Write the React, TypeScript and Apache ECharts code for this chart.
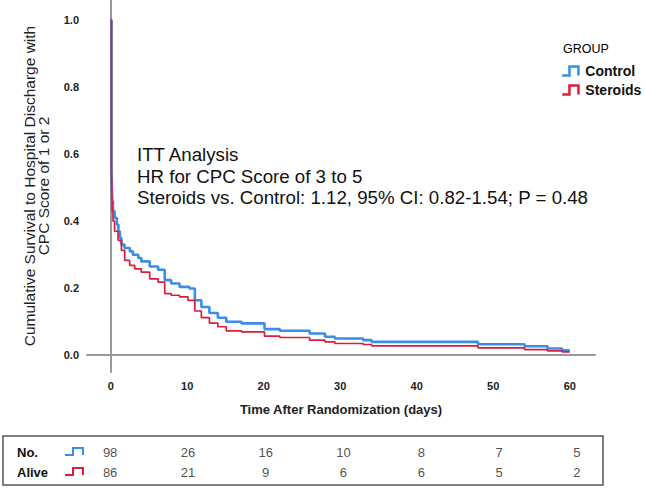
import React, { useEffect, useRef } from 'react';
import * as echarts from 'echarts';

const BLUE = '#3b8de6';
const RED = '#dc1c3c';
const FONT = '"Liberation Sans", Arial, sans-serif';

// Kaplan-Meier step points (time in days, cumulative survival)
const controlTimes = [0, 0.1, 0.15, 0.2, 0.3, 0.5, 0.8, 1.0, 1.2, 1.4, 1.8, 2.5, 2.9, 3.6, 4.0, 5.1, 6.2, 7.06, 7.9, 9.0, 10.3, 11.0, 11.85, 12.9, 14.0, 15.1, 17.1, 20.1, 22.1, 26.0, 28.0, 29.3, 33.0, 34.1, 48.0, 54.1, 57.1, 59.0, 60.0];
const controlSurv = [1.0, 0.56, 0.5, 0.46, 0.43, 0.41, 0.39, 0.37, 0.35, 0.33, 0.32, 0.31, 0.3, 0.29, 0.28, 0.265, 0.255, 0.224, 0.214, 0.204, 0.199, 0.164, 0.144, 0.126, 0.112, 0.1, 0.095, 0.078, 0.073, 0.065, 0.055, 0.05, 0.045, 0.04, 0.033, 0.027, 0.02, 0.015, 0.015];
const steroidTimes = [0, 0.1, 0.15, 0.2, 0.3, 0.5, 0.96, 1.4, 1.83, 2.48, 3.14, 4.0, 5.1, 6.2, 7.06, 7.9, 9.0, 10.1, 11.0, 11.85, 12.9, 14.0, 15.1, 17.1, 20.1, 22.1, 26.0, 28.0, 29.3, 33.0, 34.1, 48.0, 54.1, 57.1, 59.0, 60.0];
const steroidSurv = [1.0, 0.55, 0.48, 0.43, 0.4, 0.37, 0.343, 0.313, 0.283, 0.268, 0.258, 0.248, 0.228, 0.218, 0.184, 0.179, 0.174, 0.164, 0.132, 0.112, 0.096, 0.085, 0.073, 0.07, 0.057, 0.053, 0.045, 0.04, 0.035, 0.032, 0.028, 0.022, 0.017, 0.013, 0.01, 0.01];

const xTicks = [0, 10, 20, 30, 40, 50, 60];
const yTicks = [0, 0.2, 0.4, 0.6, 0.8, 1.0];

// Numbers at risk table
const riskTimes = [0, 10, 20, 30, 40, 50, 60];
const riskControl = [98, 26, 16, 10, 8, 7, 5];
const riskSteroids = [86, 21, 9, 6, 6, 5, 2];
const riskRows = ['No.', 'Alive'];

const annotationLines = [
  'ITT Analysis',
  'HR for CPC Score of 3 to 5',
  'Steroids vs. Control: 1.12, 95% CI: 0.82-1.54; P = 0.48',
];

const stepIcon = 'path://M0,10L8,10L8,0L18,0L18,10';

export default function App() {
  const ref = useRef<HTMLDivElement>(null);
  useEffect(() => {
    document.body.style.margin = '0';
    if (!ref.current) return;
    const chart = echarts.init(ref.current, undefined, { renderer: 'svg' });
    const controlData = controlTimes.map((t, i) => [t, controlSurv[i]]);
    const steroidData = steroidTimes.map((t, i) => [t, steroidSurv[i]]);
    const riskLabel = (p: any) => String(p.value[2]);
    const option: any = {
      animation: false,
      backgroundColor: '#ffffff',
      textStyle: { fontFamily: FONT },
      grid: [
        { left: 87, right: 50, top: 0, bottom: 116 },
        { left: 86, right: 42.5, top: 442, height: 40 },
      ],
      xAxis: [
        {
          gridIndex: 0,
          type: 'value',
          min: -3.1,
          max: 63.3,
          name: 'Time After Randomization (days)',
          nameLocation: 'middle',
          nameGap: 31,
          nameTextStyle: { fontFamily: FONT, fontSize: 13, fontWeight: 'bold', color: '#222' },
          axisLine: { show: true, lineStyle: { color: '#9a9a9a', width: 2 } },
          axisTick: { show: false },
          splitLine: { show: false },
          axisLabel: {
            customValues: xTicks,
            fontFamily: FONT,
            fontSize: 11,
            fontWeight: 'bold',
            color: '#222',
            margin: 8,
          },
        },
        {
          gridIndex: 1,
          type: 'value',
          min: -3.1,
          max: 63.3,
          show: false,
        },
      ],
      yAxis: [
        {
          gridIndex: 0,
          type: 'value',
          min: -0.05,
          max: 1.06,
          name: 'Cumulative Survival to Hospital Discharge with\nCPC Score of 1 or 2',
          nameLocation: 'middle',
          nameRotate: 90,
          nameGap: 36,
          nameTextStyle: { fontFamily: FONT, fontSize: 15.5, lineHeight: 14.5, color: '#222' },
          axisLine: { show: true, lineStyle: { color: '#9a9a9a', width: 2 } },
          axisTick: { show: false },
          splitLine: { show: false },
          axisLabel: {
            customValues: yTicks,
            formatter: (v: number) => v.toFixed(1),
            fontFamily: FONT,
            fontSize: 11,
            fontWeight: 'bold',
            color: '#222',
            margin: 8,
          },
        },
        {
          gridIndex: 1,
          type: 'category',
          data: riskRows,
          inverse: true,
          axisLine: { show: false },
          axisTick: { show: false },
          splitLine: { show: false },
          axisLabel: {
            align: 'left',
            margin: 69,
            fontFamily: FONT,
            fontSize: 13,
            fontWeight: 'bold',
            color: '#111',
          },
        },
      ],
      legend: {
        data: [
          { name: 'Control', icon: stepIcon, itemStyle: { color: 'transparent', borderColor: BLUE, borderWidth: 2.5 } },
          { name: 'Steroids', icon: stepIcon, itemStyle: { color: 'transparent', borderColor: RED, borderWidth: 2.5 } },
        ],
        orient: 'vertical',
        left: 556,
        top: 59,
        itemWidth: 20,
        itemHeight: 9,
        itemGap: 5,
        textStyle: { fontFamily: FONT, fontSize: 14, fontWeight: 'bold', color: '#111' },
      },
      graphic: [
        {
          type: 'text',
          left: 563,
          top: 42,
          style: { text: 'GROUP', font: `12.5px ${FONT}`, fill: '#000' },
        },
        {
          type: 'text',
          x: 137,
          y: 144,
          style: {
            text: annotationLines.join('\n'),
            fontFamily: FONT,
            fontSize: 18.7,
            lineHeight: 21.5,
            fill: '#111',
          },
        },
        {
          type: 'rect',
          shape: { x: 3, y: 436, width: 600, height: 49 },
          style: { fill: 'none', stroke: '#555', lineWidth: 1.5 },
        },
        {
          type: 'polyline',
          shape: { points: [[65, 455], [73, 455], [73, 448], [83, 448], [83, 455]] },
          style: { fill: 'none', stroke: BLUE, lineWidth: 2 },
        },
        {
          type: 'polyline',
          shape: { points: [[65, 475], [73, 475], [73, 468], [83, 468], [83, 475]] },
          style: { fill: 'none', stroke: RED, lineWidth: 2 },
        },
      ],
      series: [
        {
          name: 'Control',
          type: 'line',
          step: 'end',
          xAxisIndex: 0,
          yAxisIndex: 0,
          data: controlData,
          showSymbol: false,
          symbol: 'none',
          lineStyle: { color: BLUE, width: 2.6 },
          itemStyle: { color: BLUE },
          z: 2,
        },
        {
          name: 'Steroids',
          type: 'line',
          step: 'end',
          xAxisIndex: 0,
          yAxisIndex: 0,
          data: steroidData,
          showSymbol: false,
          symbol: 'none',
          lineStyle: { color: RED, width: 1.7 },
          itemStyle: { color: RED },
          z: 3,
        },
        {
          name: 'riskControl',
          type: 'scatter',
          xAxisIndex: 1,
          yAxisIndex: 1,
          symbolSize: 1,
          itemStyle: { color: 'transparent' },
          data: riskTimes.map((t, i) => [t, riskRows[0], riskControl[i]]),
          label: { show: true, position: 'inside', formatter: riskLabel, fontFamily: FONT, fontSize: 13, color: '#222' },
        },
        {
          name: 'riskSteroids',
          type: 'scatter',
          xAxisIndex: 1,
          yAxisIndex: 1,
          symbolSize: 1,
          itemStyle: { color: 'transparent' },
          data: riskTimes.map((t, i) => [t, riskRows[1], riskSteroids[i]]),
          label: { show: true, position: 'inside', formatter: riskLabel, fontFamily: FONT, fontSize: 13, color: '#222' },
        },
      ],
    };
    chart.setOption(option);
    return () => chart.dispose();
  }, []);
  return <div ref={ref} style={{ width: 645, height: 488 }} />;
}
